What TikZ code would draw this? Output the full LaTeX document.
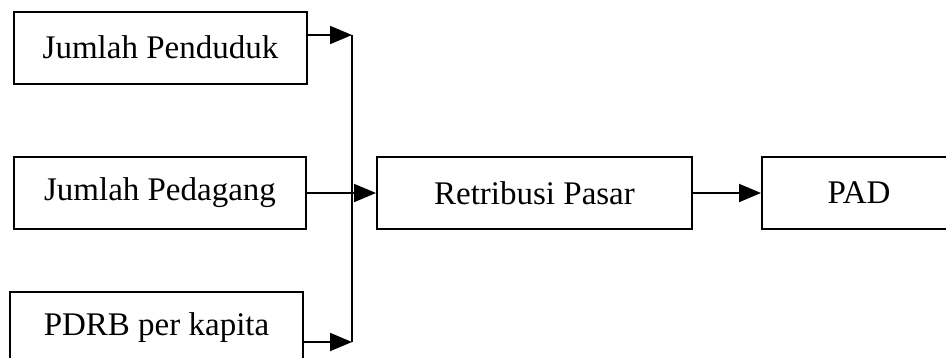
\documentclass[tikz,border=0pt]{standalone}
\usepackage{fontspec}
\setmainfont{Liberation Serif}
\usetikzlibrary{arrows.meta}
\begin{document}
\begin{tikzpicture}[x=1pt,y=-1pt,
  box/.style={draw=black, line width=2pt, inner sep=0pt, minimum height=72pt,
    font=\fontsize{33}{39}\selectfont, anchor=center},
  flow/.style={line width=2pt, -{Triangle[length=22pt,width=18pt]}},
  bus/.style={line width=2pt}]
  \useasboundingbox (0,0) rectangle (946,357);
  \clip (0,0) rectangle (946,357);
  \fill[white] (0,0) rectangle (946,357);

  % input factors
  \node[box, minimum width=293pt] (pend) at (160.5,47.5) {Jumlah Penduduk};
  \node[box, minimum width=292pt] (pedag) at (160,193) {Jumlah Pedagang};
  \node[box, minimum width=293pt] (pdrb) at (156.5,327.5) {PDRB per kapita};

  % outcome chain
  \node[box, minimum width=315pt] (retr) at (534.5,193) {Retribusi Pasar};
  \node[box, minimum width=194pt] (pad) at (859,193) {PAD};

  % vertical collector line
  \coordinate (bustop) at (352,35);
  \coordinate (busbot) at (352,342);
  \draw[bus] (bustop) -- (busbot);

  \draw[flow] (pend.east |- bustop) -- (bustop);
  \draw[flow] (pdrb.east |- busbot) -- (busbot);
  \draw[flow] (pedag.east) -- (retr.west);
  \draw[flow] (retr.east) -- (pad.west);
\end{tikzpicture}
\end{document}
